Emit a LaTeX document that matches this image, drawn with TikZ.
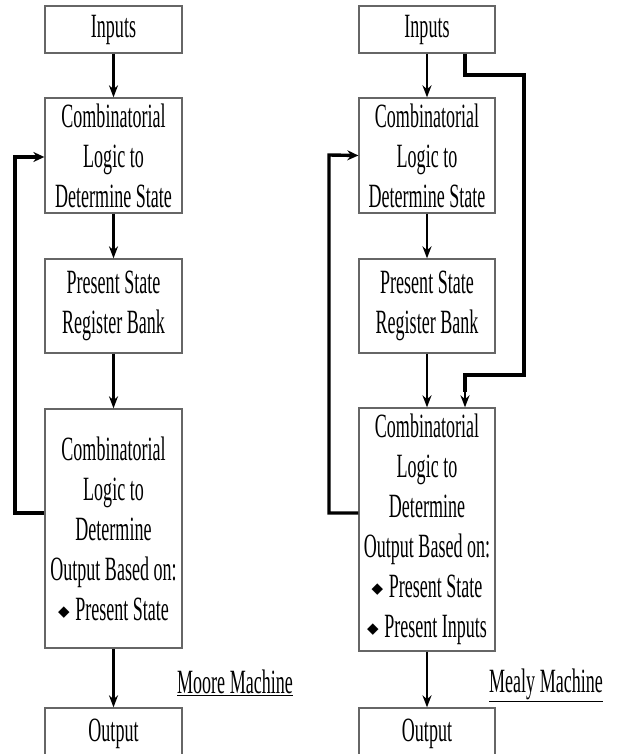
\documentclass[tikz,border=0pt]{standalone}
\usepackage{fontspec}
\setmainfont[FakeStretch=0.53]{Liberation Serif}
\newfontfamily\symfont{DejaVu Sans}
\usetikzlibrary{arrows.meta}
\newcommand{\dmd}{{\symfont\fontsize{15}{15}\selectfont\raisebox{4pt}{◆}}\,}
\begin{document}
\begin{tikzpicture}[x=1pt,y=-1pt,
  blk/.style={draw=black!60, line width=1.3pt, fill=white, text=black,
    align=center, font=\fontsize{34}{40}\selectfont, inner sep=0pt},
  flow/.style={line width=2.6pt, -{Stealth[length=12pt,width=9pt]}},
  fb/.style={line width=3.4pt, line join=miter},
  fbarrow/.style={fb, -{Stealth[length=11pt,width=10pt]}},
  lbl/.style={text=black, font=\fontsize{34}{40}\selectfont, inner sep=0pt}]
\useasboundingbox (0,0) rectangle (622,754);
% Moore machine (left)
\node[blk, minimum width=137pt, minimum height=47pt] (L1) at (113.5,29.5) {Inputs};
\node[blk, minimum width=137pt, minimum height=115pt] (L2) at (113.5,155.5) {Combinatorial\\Logic to\\Determine State};
\node[blk, minimum width=137pt, minimum height=94pt] (L3) at (113.5,306) {Present State\\Register Bank};
\node[blk, minimum width=137pt, minimum height=239pt] (L4) at (113.5,528.5) {Combinatorial\\Logic to\\Determine\\Output Based on:\\\dmd Present State};
\node[blk, minimum width=137pt, minimum height=52pt] (L5) at (113.5,734) {Output};
\node[lbl] (moore) at (235,683) {\underline{Moore Machine}};
\draw[flow] (L1) -- (L2);
\draw[flow] (L2) -- (L3);
\draw[flow] (L3) -- (L4);
\draw[flow] (L4) -- (L5);
\coordinate (lfa) at (15,513);
\coordinate (lfb) at (15,157);
\draw[fbarrow] ([yshift=15.5pt]L4.west) -- (lfa) -- (lfb) -- ([yshift=-1.5pt]L2.west);
% Mealy machine (right)
\node[blk, minimum width=136pt, minimum height=47pt] (R1) at (427,29.5) {Inputs};
\node[blk, minimum width=136pt, minimum height=115pt] (R2) at (427,155.5) {Combinatorial\\Logic to\\Determine State};
\node[blk, minimum width=136pt, minimum height=94pt] (R3) at (427,306) {Present State\\Register Bank};
\node[blk, minimum width=136pt, minimum height=243pt] (R4) at (427,529.5) {Combinatorial\\Logic to\\Determine\\Output Based on:\\\dmd Present State\\\dmd Present Inputs};
\node[blk, minimum width=136pt, minimum height=52pt] (R5) at (427,734) {Output};
\node[lbl] (mealy) at (546,685) {\underline{Mealy Machine}};
\draw[flow] (R1) -- (R2);
\draw[flow] (R2) -- (R3);
\draw[flow] (R3) -- (R4);
\draw[flow] (R4) -- (R5);
\coordinate (rfa) at (329,513);
\coordinate (rfb) at (329,155);
\draw[fbarrow] ([yshift=16.5pt]R4.west) -- (rfa) -- (rfb) -- (R2.west);
\coordinate (ra) at (465,75);
\coordinate (rb) at (524,75);
\coordinate (rc) at (524,375);
\coordinate (rd) at (465,375);
\draw[fb] ([xshift=38pt]R1.south) -- (ra) -- (rb) -- (rc) -- (rd) -- (465,392);
\draw[flow] (rd) -- ([xshift=38pt]R4.north);
\end{tikzpicture}
\end{document}
